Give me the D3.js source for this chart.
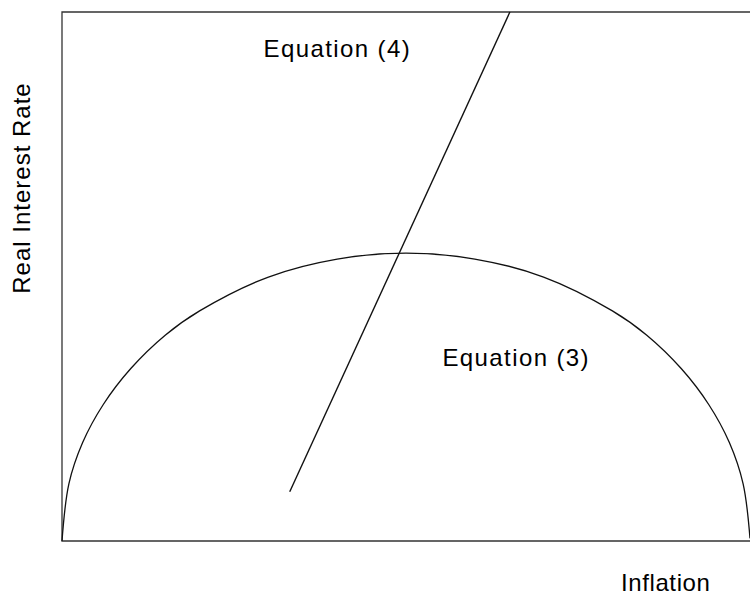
<!DOCTYPE html>
<html>
<head>
<meta charset="utf-8">
<script src="https://cdn.jsdelivr.net/npm/d3@7"></script>
<style>
  body { margin: 0; background: #fff; }
  text { font-family: "Liberation Sans", Arial, sans-serif; fill: #000; }
</style>
</head>
<body>
<div id="chart"></div>
<script>
const width = 750;
const height = 598;
const margin = {top: 12, right: 0, bottom: 57, left: 62};

// equation (3): hump-shaped curve (inflation, real rate)
const curveX = [0, 1, 3, 6, 10, 15, 20, 30, 40, 50, 60, 70, 80, 85, 90, 94, 97, 99, 100];
const curveY = [0, 10.8, 18.6, 25.8, 32.6, 38.9, 43.5, 49.9, 53.3, 54.4, 53.3, 49.9, 43.5, 38.9, 32.6, 25.8, 18.6, 10.8, 0.5];

// equation (4): straight upward line
const lineX = [33.1, 65.1];
const lineY = [9.3, 100];

const labels = ["Equation (4)", "Equation (3)"];
const labelX = [29.3, 55.3];
const labelY = [93, 34.6];

const svg = d3.select("#chart").append("svg")
  .attr("width", width)
  .attr("height", height);

const x = d3.scaleLinear().domain([0, 100]).range([margin.left, width - margin.right]);
const y = d3.scaleLinear().domain([0, 100]).range([height - margin.bottom, margin.top]);

// frame: left, top, bottom
svg.append("path")
  .attr("d", `M${x(100)},${y(100)} H${x(0)} V${y(0)} H${x(100)}`)
  .attr("fill", "none")
  .attr("stroke", "#333")
  .attr("stroke-width", 1.3);

const curvePts = curveX.map((d, i) => [d, curveY[i]]);
svg.append("path")
  .datum(curvePts)
  .attr("d", d3.line().x(d => x(d[0])).y(d => y(d[1])).curve(d3.curveCatmullRom.alpha(0.5)))
  .attr("fill", "none")
  .attr("stroke", "#111")
  .attr("stroke-width", 1.3);

svg.append("path")
  .datum(lineX.map((d, i) => [d, lineY[i]]))
  .attr("d", d3.line().x(d => x(d[0])).y(d => y(d[1])))
  .attr("fill", "none")
  .attr("stroke", "#111")
  .attr("stroke-width", 1.4);

svg.selectAll("text.eq")
  .data(labels)
  .enter().append("text")
  .attr("class", "eq")
  .attr("x", (d, i) => x(labelX[i]))
  .attr("y", (d, i) => y(labelY[i]))
  .attr("dy", "0.35em")
  .style("font-size", "24px")
  .style("letter-spacing", "1.4px")
  .text(d => d);

svg.append("text")
  .attr("transform", `translate(22, ${188}) rotate(-90)`)
  .attr("text-anchor", "middle")
  .attr("dy", "0.35em")
  .style("font-size", "24px")
  .style("letter-spacing", "1px")
  .text("Real Interest Rate");

svg.append("text")
  .attr("x", 621)
  .attr("y", 583)
  .attr("dy", "0.35em")
  .style("font-size", "24px")
  .style("letter-spacing", "0.6px")
  .text("Inflation");
</script>
</body>
</html>
